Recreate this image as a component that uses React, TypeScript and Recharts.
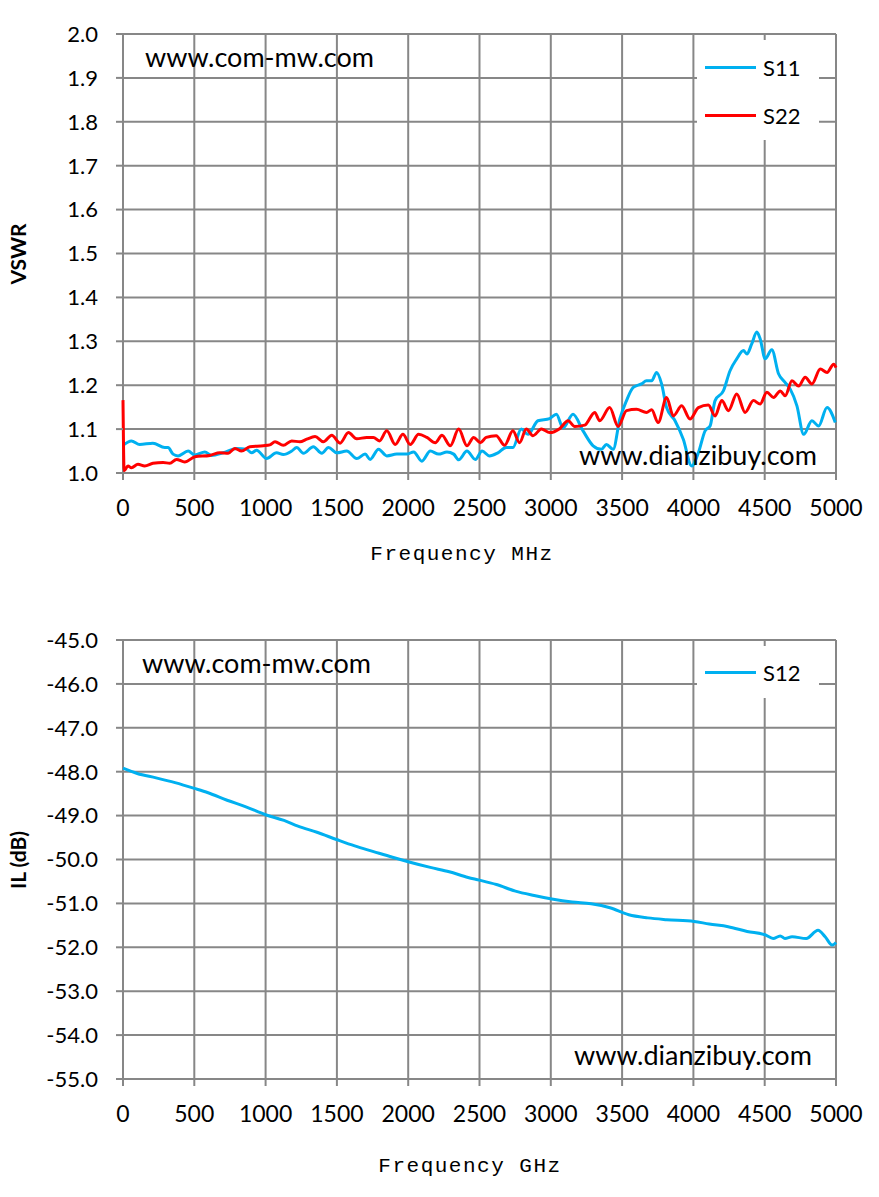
import React from 'react';
import { LineChart, Line, XAxis, YAxis, CartesianGrid, Legend } from 'recharts';

// frequency (MHz) and VSWR
const s11Freq = [0, 59, 117, 210, 293, 316, 351, 386, 457, 504, 574, 620, 703, 796, 866, 902, 937, 1007, 1077, 1124, 1183, 1218, 1265, 1335, 1394, 1441, 1499, 1569, 1639, 1698, 1733, 1792, 1850, 1920, 1991, 2038, 2096, 2155, 2213, 2272, 2319, 2354, 2412, 2471, 2518, 2570, 2629, 2687, 2734, 2793, 2840, 2910, 2992, 3039, 3086, 3156, 3226, 3297, 3355, 3390, 3437, 3484, 3531, 3578, 3636, 3671, 3707, 3742, 3777, 3812, 3871, 3929, 3988, 4035, 4082, 4117, 4152, 4210, 4257, 4304, 4351, 4375, 4409, 4445, 4468, 4503, 4550, 4597, 4644, 4679, 4726, 4773, 4831, 4878, 4937, 4995];
const s11Vswr = [1.063, 1.073, 1.065, 1.068, 1.058, 1.058, 1.043, 1.039, 1.05, 1.041, 1.048, 1.04, 1.046, 1.056, 1.054, 1.046, 1.052, 1.033, 1.046, 1.042, 1.05, 1.058, 1.045, 1.06, 1.045, 1.058, 1.046, 1.05, 1.033, 1.043, 1.031, 1.054, 1.039, 1.043, 1.043, 1.048, 1.027, 1.05, 1.043, 1.048, 1.043, 1.03, 1.05, 1.031, 1.05, 1.039, 1.046, 1.058, 1.058, 1.1, 1.088, 1.119, 1.124, 1.134, 1.103, 1.134, 1.096, 1.062, 1.054, 1.065, 1.054, 1.123, 1.165, 1.195, 1.203, 1.21, 1.21, 1.229, 1.203, 1.149, 1.119, 1.077, 1.016, 1.046, 1.096, 1.107, 1.165, 1.187, 1.233, 1.26, 1.279, 1.271, 1.294, 1.321, 1.306, 1.26, 1.281, 1.226, 1.206, 1.191, 1.153, 1.088, 1.119, 1.107, 1.149, 1.115];

const s22Freq = [0, 8, 35, 59, 105, 152, 210, 281, 328, 375, 433, 504, 609, 679, 738, 785, 831, 890, 984, 1030, 1066, 1124, 1183, 1241, 1288, 1347, 1405, 1464, 1522, 1581, 1639, 1709, 1756, 1798, 1850, 1909, 1963, 2014, 2073, 2131, 2190, 2237, 2295, 2354, 2412, 2459, 2506, 2547, 2617, 2676, 2734, 2781, 2828, 2875, 2934, 2992, 3062, 3121, 3168, 3238, 3308, 3343, 3413, 3472, 3531, 3601, 3671, 3707, 3753, 3812, 3859, 3918, 3976, 4035, 4105, 4152, 4199, 4246, 4304, 4363, 4421, 4468, 4515, 4562, 4609, 4644, 4691, 4738, 4784, 4831, 4890, 4937, 4984, 5000];
const s22Vswr = [1.166, 1.005, 1.016, 1.012, 1.02, 1.016, 1.022, 1.024, 1.022, 1.031, 1.025, 1.037, 1.04, 1.046, 1.045, 1.056, 1.05, 1.06, 1.062, 1.064, 1.071, 1.063, 1.073, 1.071, 1.077, 1.083, 1.071, 1.086, 1.068, 1.092, 1.078, 1.081, 1.081, 1.073, 1.096, 1.065, 1.088, 1.065, 1.088, 1.081, 1.069, 1.086, 1.062, 1.1, 1.062, 1.081, 1.069, 1.081, 1.085, 1.063, 1.096, 1.069, 1.1, 1.085, 1.1, 1.092, 1.101, 1.119, 1.106, 1.109, 1.138, 1.119, 1.149, 1.106, 1.142, 1.145, 1.138, 1.144, 1.115, 1.172, 1.13, 1.153, 1.123, 1.149, 1.155, 1.13, 1.165, 1.142, 1.18, 1.138, 1.165, 1.157, 1.184, 1.172, 1.187, 1.176, 1.21, 1.198, 1.218, 1.203, 1.237, 1.229, 1.248, 1.24];

// insertion loss (dB)
const s12Freq = [0, 100, 232, 365, 500, 597, 730, 862, 1000, 1129, 1227, 1360, 1502, 1625, 1757, 1890, 2000, 2155, 2288, 2420, 2500, 2619, 2752, 2884, 3007, 3150, 3283, 3415, 3547, 3680, 3813, 4005, 4111, 4244, 4377, 4506, 4559, 4609, 4642, 4692, 4791, 4874, 4924, 4973, 5000];
const s12Loss = [-47.92, -48.04, -48.14, -48.25, -48.38, -48.48, -48.65, -48.8, -48.98, -49.11, -49.24, -49.38, -49.55, -49.69, -49.82, -49.95, -50.05, -50.18, -50.28, -50.41, -50.47, -50.57, -50.72, -50.82, -50.9, -50.97, -51.01, -51.1, -51.26, -51.33, -51.37, -51.41, -51.47, -51.53, -51.64, -51.72, -51.8, -51.74, -51.8, -51.76, -51.8, -51.61, -51.76, -51.95, -51.89];

const freqTicks = [0, 500, 1000, 1500, 2000, 2500, 3000, 3500, 4000, 4500, 5000];
const vswrTicks = [1.0, 1.1, 1.2, 1.3, 1.4, 1.5, 1.6, 1.7, 1.8, 1.9, 2.0];
const ilTicks = [-55, -54, -53, -52, -51, -50, -49, -48, -47, -46, -45];

const toPoints = (xs: number[], ys: number[]) => xs.map((f, i) => ({ f, v: ys[i] }));

const GRID = '#878787';
const BLUE = '#00b0f0';
const RED = '#ff0000';
const tickFont = 'Lato, "Open Sans", sans-serif';

const LegendBox = ({ payload, height, padTop }: any) => (
  <div style={{ background: '#fff', width: 122, height, boxSizing: 'border-box', paddingTop: padTop }}>
    {(payload || []).map((p: any) => (
      <div key={p.value} style={{ display: 'flex', alignItems: 'center', height: 48, fontFamily: tickFont, fontSize: 22 }}>
        <span style={{ display: 'inline-block', width: 51, height: 3, background: p.color, marginLeft: 8, marginRight: 7 }} />
        <span>{p.value}</span>
      </div>
    ))}
  </div>
);

const note = (text: string, left: number, top: number) => (
  <div style={{ position: 'absolute', left, top, fontFamily: tickFont, fontSize: 27, lineHeight: '32px', color: '#000', whiteSpace: 'nowrap' }}>{text}</div>
);

const axisTitle = (text: string, cx: number, top: number) => (
  <div style={{ position: 'absolute', left: cx - 150, width: 300, top, textAlign: 'center', fontFamily: '"Liberation Mono", monospace', fontSize: 21, letterSpacing: 1.5 }}>{text}</div>
);

const yTitle = (text: string, cy: number) => (
  <div style={{ position: 'absolute', left: 18 - 60, top: cy - 14, width: 120, height: 28, textAlign: 'center', transform: 'rotate(-90deg)', fontFamily: tickFont, fontWeight: 700, fontSize: 21, lineHeight: '28px' }}>{text}</div>
);

export default function App() {
  const s11 = toPoints(s11Freq, s11Vswr);
  const s22 = toPoints(s22Freq, s22Vswr);
  const s12 = toPoints(s12Freq, s12Loss);

  const xAxisProps = {
    dataKey: 'f',
    type: 'number' as const,
    domain: [0, 5000],
    ticks: freqTicks,
    interval: 0 as const,
    stroke: GRID,
    strokeWidth: 2,
    tickSize: 7,
    tickMargin: 20,
    tick: { fill: '#000', fontSize: 23, fontFamily: tickFont },
    height: 40,
  };

  return (
    <div style={{ position: 'absolute', left: 0, top: 0, width: 879, height: 1197, background: '#fff' }}>
      <div style={{ position: 'absolute', left: 0, top: 0 }}>
        <LineChart width={879} height={600} margin={{ top: 34, right: 43, left: 63, bottom: 87 }}>
          <CartesianGrid stroke={GRID} strokeWidth={2} />
          <XAxis {...xAxisProps} />
          <YAxis
            domain={[1, 2]}
            ticks={vswrTicks}
            interval={0}
            width={60}
            axisLine={false}
            tickLine={{ stroke: GRID, strokeWidth: 2 }}
            tickSize={7}
            tickMargin={18}
            tickFormatter={(v: number) => v.toFixed(1)}
            tick={{ fill: '#000', fontSize: 22, fontFamily: tickFont }}
          />
          <Legend
            layout="vertical"
            align="center"
            verticalAlign="middle"
            content={(props: any) => <LegendBox {...props} height={100} padTop={3} />}
            wrapperStyle={{ top: 40, left: 697, width: 122, right: 'auto', bottom: 'auto' }}
          />
          <Line data={s11} dataKey="v" name="S11" type="monotone" stroke={BLUE} strokeWidth={3} dot={false} isAnimationActive={false} />
          <Line data={s22} dataKey="v" name="S22" type="monotone" stroke={RED} strokeWidth={3} dot={false} isAnimationActive={false} />
        </LineChart>
        {note('www.com-mw.com', 145, 41)}
        {note('www.dianzibuy.com', 579, 439)}
        {axisTitle('Frequency MHz', 462, 543)}
        {yTitle('VSWR', 254)}
      </div>
      <div style={{ position: 'absolute', left: 0, top: 600 }}>
        <LineChart width={879} height={597} margin={{ top: 40, right: 43, left: 63, bottom: 78 }}>
          <CartesianGrid stroke={GRID} strokeWidth={2} />
          <XAxis {...xAxisProps} />
          <YAxis
            domain={[-55, -45]}
            ticks={ilTicks}
            interval={0}
            width={60}
            axisLine={false}
            tickLine={{ stroke: GRID, strokeWidth: 2 }}
            tickSize={7}
            tickMargin={18}
            tickFormatter={(v: number) => v.toFixed(1)}
            tick={{ fill: '#000', fontSize: 22, fontFamily: tickFont }}
          />
          <Legend
            layout="vertical"
            align="center"
            verticalAlign="middle"
            content={(props: any) => <LegendBox {...props} height={52} padTop={2} />}
            wrapperStyle={{ top: 46, left: 697, width: 122, right: 'auto', bottom: 'auto' }}
          />
          <Line data={s12} dataKey="v" name="S12" type="monotone" stroke={BLUE} strokeWidth={3} dot={false} isAnimationActive={false} />
        </LineChart>
        {note('www.com-mw.com', 142, 47)}
        {note('www.dianzibuy.com', 574, 439)}
        {axisTitle('Frequency GHz', 470, 555)}
        {yTitle('IL (dB)', 260)}
      </div>
    </div>
  );
}
